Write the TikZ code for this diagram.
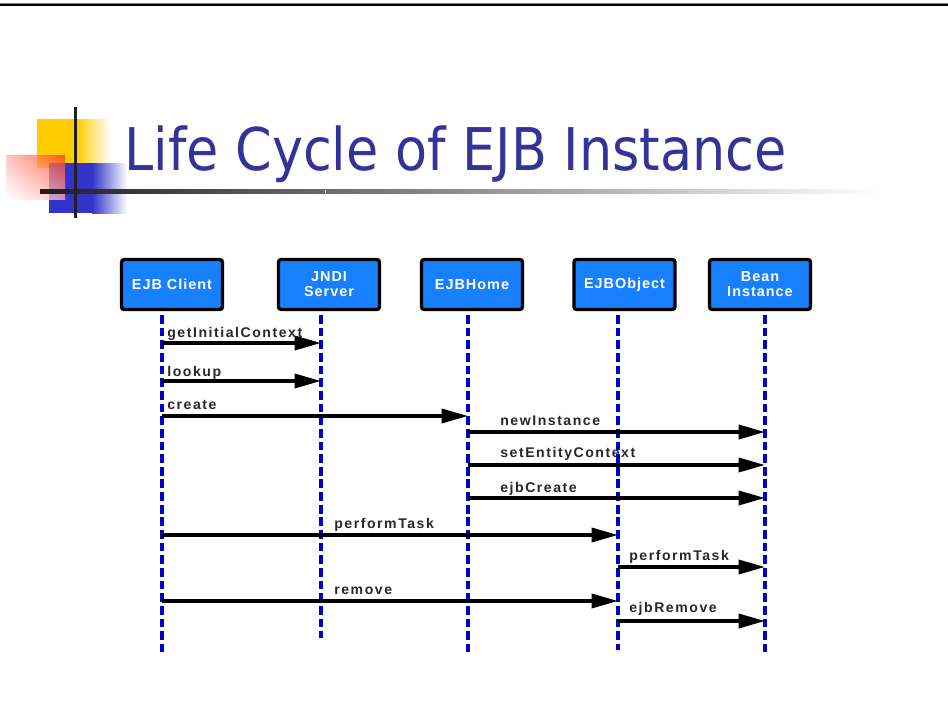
\documentclass[tikz,border=0pt]{standalone}
\usepackage{fontspec}
\usepackage{graphicx}
\usetikzlibrary{arrows.meta,shadings}
\newfontfamily\titlefont{DejaVu Sans}
\newfontfamily\boxfont[LetterSpace=7]{Liberation Sans}
\newfontfamily\lblfont[LetterSpace=11]{Liberation Sans}
\definecolor{titleblue}{RGB}{51,51,153}
\definecolor{actorblue}{RGB}{24,128,255}
\definecolor{lifeblue}{RGB}{0,0,204}
\definecolor{decoyellow}{RGB}{255,204,0}
\definecolor{decoblue}{RGB}{51,51,204}
\definecolor{labelgray}{RGB}{40,40,40}
\definecolor{redUL}{RGB}{255,180,180}
\definecolor{redUR}{RGB}{255,55,10}
\definecolor{redLR}{RGB}{255,180,180}
\definecolor{ruledark}{RGB}{30,30,30}
\tikzset{
  actor/.style={draw=black, line width=1.9pt, rounded corners=1.5pt, fill=actorblue,
    minimum width=2.02cm, minimum height=1.0cm, inner sep=0pt, align=center,
    text=white, font=\boxfont\bfseries\fontsize{8.2}{8.6}\selectfont},
  lifeline/.style={draw=lifeblue, line width=1.8pt, dash pattern=on 5pt off 2.2pt},
  msg/.style={draw=black, line width=1.9pt, -{Triangle[length=15pt,width=8pt]}},
  msglabel/.style={anchor=base west, inner sep=0pt, text=labelgray,
    font=\lblfont\bfseries\fontsize{8}{9}\selectfont}
}
\begin{document}
\begin{tikzpicture}[x=0.02cm,y=-0.02cm]
\useasboundingbox (0,0) rectangle (948,720);
\fill[white] (0,0) rectangle (948,720);

% top rule
\fill[gray] (0,3) rectangle (948,4);
\fill[black] (0,4) rectangle (948,6.3);

% corner ornament
\fill[decoyellow] (37,119) rectangle (77,168);
\shade[left color=decoyellow, right color=white] (77,119) rectangle (110,168);
\fill[decoblue] (49,163) rectangle (92,213);
\shade[left color=decoblue, right color=white] (92,163) rectangle (127,213);
\shade[fill opacity=0.75, upper left=redUL, upper right=redUR, lower left=white,
  lower right=redLR] (6,155) rectangle (65,199);
\shade[left color=ruledark, right color=white] (40,189.5) rectangle (880,193);
\fill[white] (325,189.5) rectangle (326,193);
\fill[black!88] (73.5,107) rectangle (77,218);

% title
\node[anchor=base west, inner sep=0pt, text=titleblue] (title) at (124,171)
  {\resizebox{13.25cm}{\height}{\titlefont\fontsize{33.5}{40}\selectfont Life Cycle of EJB Instance}};

% participants
\node[actor] (client) at (172,284.5) {EJB Client};
\node[actor] (jndi)   at (329,284.5) {JNDI\\Server};
\node[actor] (home)   at (472,284.5) {EJBHome};
\node[actor] (object) at (624.5,284.5) {EJBObject};
\node[actor] (bean)   at (760,284.5) {Bean\\Instance};

% lifelines
\coordinate (tC) at (162,315); \coordinate (bC) at (162,652);
\coordinate (tJ) at (321,315); \coordinate (bJ) at (321,638);
\coordinate (tH) at (468,315); \coordinate (bH) at (468,652);
\coordinate (tO) at (618,315); \coordinate (bO) at (618,650);
\coordinate (tB) at (765,315); \coordinate (bB) at (765,652);
\draw[lifeline] (tC) -- (bC);
\draw[lifeline] (tJ) -- (bJ);
\draw[lifeline] (tH) -- (bH);
\draw[lifeline] (tO) -- (bO);
\draw[lifeline] (tB) -- (bB);

% message rows
\coordinate (r1) at (0,343);
\coordinate (r2) at (0,381);
\coordinate (r3) at (0,416);
\coordinate (r4) at (0,432);
\coordinate (r5) at (0,465);
\coordinate (r6) at (0,498);
\coordinate (r7) at (0,535);
\coordinate (r8) at (0,567);
\coordinate (r9) at (0,601);
\coordinate (r10) at (0,621);

% messages
\draw[msg] (tC |- r1) -- (tJ |- r1);
\draw[msg] (tC |- r2) -- (tJ |- r2);
\draw[msg] (tC |- r3) -- (tH |- r3);
\draw[msg] (tH |- r4) -- (tB |- r4);
\draw[msg] (tH |- r5) -- (tB |- r5);
\draw[msg] (tH |- r6) -- (tB |- r6);
\draw[msg] (tC |- r7) -- (tO |- r7);
\draw[msg] (tO |- r8) -- (tB |- r8);
\draw[msg] (tC |- r9) -- (tO |- r9);
\draw[msg] (tO |- r10) -- (tB |- r10);

% message labels
\node[msglabel] (l1) at (167,337) {getInitialContext};
\node[msglabel] (l2) at (167,376) {lookup};
\node[msglabel] (l3) at (167,409) {create};
\node[msglabel] (l4) at (500,425) {newInstance};
\node[msglabel] (l5) at (500,457) {setEntityContext};
\node[msglabel] (l6) at (500,492) {ejbCreate};
\node[msglabel] (l7) at (334,528) {performTask};
\node[msglabel] (l8) at (629,560) {performTask};
\node[msglabel] (l9) at (334,594) {remove};
\node[msglabel] (l10) at (629,612) {ejbRemove};
\end{tikzpicture}
\end{document}
